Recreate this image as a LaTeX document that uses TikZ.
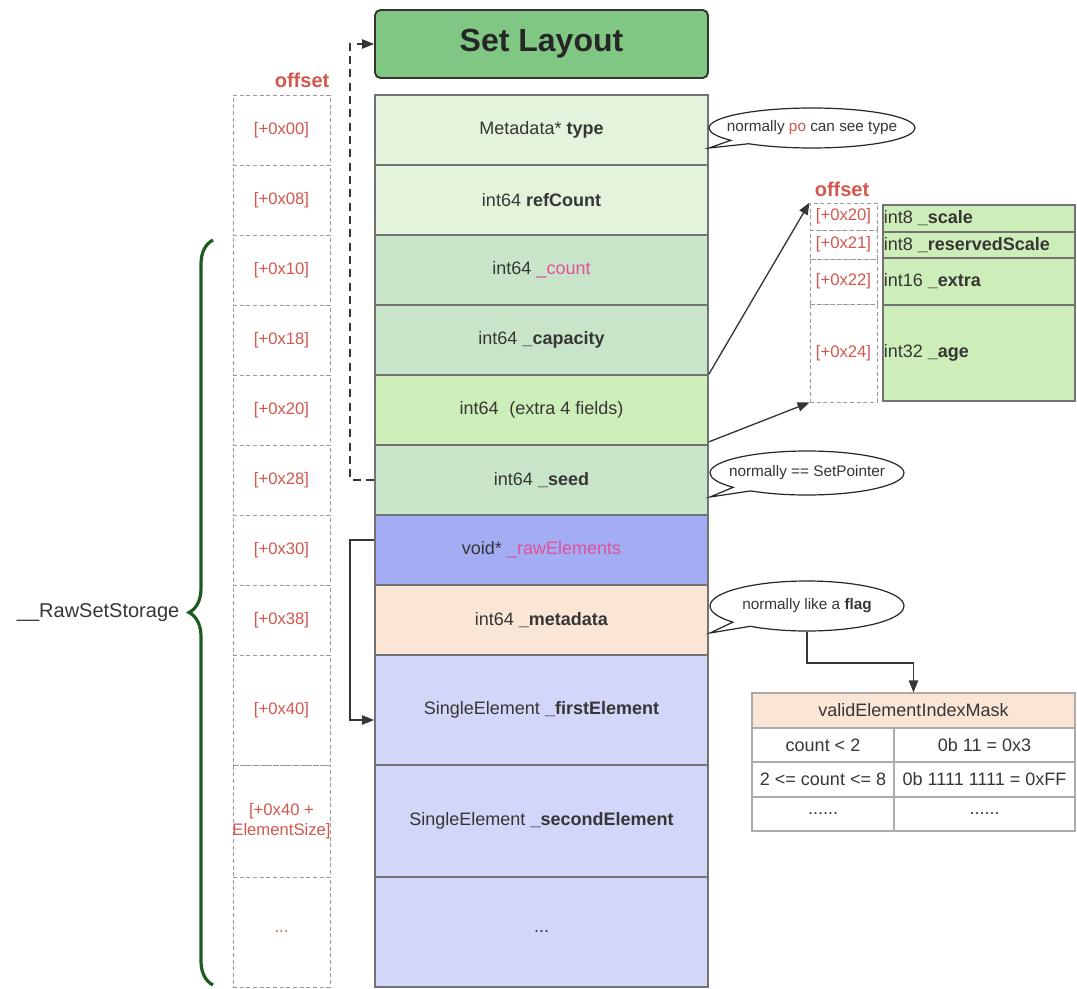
\documentclass[tikz,border=0pt]{standalone}
\usepackage{fontspec}
\setmainfont{Liberation Sans}
\usetikzlibrary{fit,shapes.callouts,decorations.pathreplacing,arrows.meta}

\definecolor{ink}{HTML}{363636}
\definecolor{offred}{HTML}{D4564E}
\definecolor{pinkt}{HTML}{E0509A}
\definecolor{lgreen}{HTML}{E4F4DC}
\definecolor{mgreen}{HTML}{C8E5C9}
\definecolor{lime}{HTML}{CDEDB9}
\definecolor{blueA}{HTML}{A3ADF3}
\definecolor{peach}{HTML}{FBE6D6}
\definecolor{lav}{HTML}{D2D6F8}
\definecolor{titleg}{HTML}{80C784}
\definecolor{braceg}{HTML}{1E5B20}
\definecolor{cellgray}{HTML}{737373}
\definecolor{dashgray}{HTML}{9A9A9A}
\definecolor{tblgray}{HTML}{ABABAB}

\newcommand{\fs}[1]{\fontsize{#1}{#1}\selectfont}

\begin{document}
\begin{tikzpicture}[x=0.75pt,y=-0.75pt,
  cell/.style={draw=cellgray, line width=1.3pt, inner sep=0pt},
  ctext/.style={inner sep=0pt, text=ink, font=\fs{13.5}},
  offbox/.style={draw=dashgray, dashed, dash pattern=on 3pt off 2pt, line width=0.7pt, inner sep=0pt},
  otext/.style={inner sep=0pt, text=offred, font=\fs{12.5}, align=center},
  subcell/.style={draw=cellgray, line width=1.1pt, fill=lime, inner sep=0pt},
  tcell/.style={draw=tblgray, line width=0.8pt, inner sep=0pt},
  bubble/.style={ellipse callout, draw=black!85, line width=0.9pt, fill=white, inner sep=0pt, callout pointer arc=14},
  btext/.style={inner sep=0pt, text=ink, font=\fs{11.5}},
  headlbl/.style={text=offred, font=\bfseries\fs{15}},
  arr/.style={draw=ink, line width=1pt, -{Triangle[length=9pt,width=7pt]}},
]
\useasboundingbox (0,0) rectangle (1077,988);

% title
\node[fit={(375,10)(708,78)}, inner sep=0pt, draw=black!80, line width=1.4pt, rounded corners=4pt, fill=titleg] (title) {};
\node[text=black!85, font=\bfseries\fs{24}] (titletext) at (title) {Set Layout};

% main layout rows
\node[cell, fill=lgreen, fit={(375,95)(708,165)}] (r1) {};
\node[cell, fill=lgreen, fit={(375,165)(708,235)}] (r2) {};
\node[cell, fill=mgreen, fit={(375,235)(708,305)}] (r3) {};
\node[cell, fill=mgreen, fit={(375,305)(708,375)}] (r4) {};
\node[cell, fill=lime, fit={(375,375)(708,445)}] (r5) {};
\node[cell, fill=mgreen, fit={(375,445)(708,515)}] (r6) {};
\node[cell, fill=blueA, fit={(375,515)(708,585)}] (r7) {};
\node[cell, fill=peach, fit={(375,585)(708,655)}] (r8) {};
\node[cell, fill=lav, fit={(375,655)(708,765)}] (r9) {};
\node[cell, fill=lav, fit={(375,765)(708,877)}] (r10) {};
\node[cell, fill=lav, fit={(375,877)(708,987)}] (r11) {};
\node[ctext] (l1) at (r1) {Metadata* \textbf{type}};
\node[ctext] (l2) at (r2) {int64 \textbf{refCount}};
\node[ctext] (l3) at (r3) {int64 \textcolor{pinkt}{\_count}};
\node[ctext] (l4) at (r4) {int64 \textbf{\_capacity}};
\node[ctext] (l5) at (r5) {int64\hspace{0.6em}(extra 4 fields)};
\node[ctext] (l6) at (r6) {int64 \textbf{\_seed}};
\node[ctext] (l7) at (r7) {void* \textcolor{pinkt}{\_rawElements}};
\node[ctext] (l8) at (r8) {int64 \textbf{\_metadata}};
\node[ctext] (l9) at (r9) {SingleElement \textbf{\_firstElement}};
\node[ctext] (l10) at (r10) {SingleElement \textbf{\_secondElement}};
\node[ctext] (l11) at (r11) {...};

% offset column
\node[headlbl, anchor=east] (offhead) at (334,80) {offset};
\node[offbox, fit={(233,95)(330,165)}] (o1) {};
\node[offbox, fit={(233,165)(330,235)}] (o2) {};
\node[offbox, fit={(233,235)(330,305)}] (o3) {};
\node[offbox, fit={(233,305)(330,375)}] (o4) {};
\node[offbox, fit={(233,375)(330,445)}] (o5) {};
\node[offbox, fit={(233,445)(330,515)}] (o6) {};
\node[offbox, fit={(233,515)(330,585)}] (o7) {};
\node[offbox, fit={(233,585)(330,655)}] (o8) {};
\node[offbox, fit={(233,655)(330,765)}] (o9) {};
\node[offbox, fit={(233,765)(330,877)}] (o10) {};
\node[offbox, fit={(233,877)(330,987)}] (o11) {};
\node[otext] (p1) at (o1) {[+0x00]};
\node[otext] (p2) at (o2) {[+0x08]};
\node[otext] (p3) at (o3) {[+0x10]};
\node[otext] (p4) at (o4) {[+0x18]};
\node[otext] (p5) at (o5) {[+0x20]};
\node[otext] (p6) at (o6) {[+0x28]};
\node[otext] (p7) at (o7) {[+0x30]};
\node[otext] (p8) at (o8) {[+0x38]};
\node[otext] (p9) at (o9) {[+0x40]};
\node[otext, font=\fontsize{12.5}{15}\selectfont] (p10) at (o10) {[+0x40 +\\ElementSize]};
\node[otext] (p11) at (o11) {...};

% storage brace
\draw[braceg, line width=2.4pt, decorate, decoration={brace, amplitude=18pt, aspect=0.5}] (213,985) -- (213,240);
\node[anchor=east, text=ink, font=\fs{15}] (storage) at (184,613) {\_\_RawSetStorage};

% seed points back to the whole set
\coordinate (s1) at (350,480);
\coordinate (s2) at (350,44);
\draw[arr, dash pattern=on 6pt off 4pt] (r6.west |- s1) -- (s1) -- (s2) -- (title.west |- s2);

% raw elements point to the first element
\coordinate (e1) at (350,540);
\coordinate (e2) at (350,720);
\draw[arr] (r7.west |- e1) -- (e1) -- (e2) -- (r9.west |- e2);

% extra fields breakdown
\node[headlbl] (offhead2) at (842,189) {offset};
\node[offbox, fit={(810,203)(877,230)}] (q1) {};
\node[offbox, fit={(810,230)(877,259)}] (q2) {};
\node[offbox, fit={(810,259)(877,304)}] (q3) {};
\node[offbox, fit={(810,304)(877,402)}] (q4) {};
\node[otext] (qt1) at (q1) {[+0x20]};
\node[otext] (qt2) at (q2) {[+0x21]};
\node[otext] (qt3) at (q3) {[+0x22]};
\node[otext] (qt4) at (q4) {[+0x24]};
\node[subcell, fit={(883,205)(1075,232)}] (f1) {};
\node[subcell, fit={(883,232)(1075,258)}] (f2) {};
\node[subcell, fit={(883,258)(1075,305)}] (f3) {};
\node[subcell, fit={(883,305)(1075,401)}] (f4) {};
\node[ctext, anchor=west] (g1) at ([xshift=1pt]f1.west) {int8 \textbf{\_scale}};
\node[ctext, anchor=west] (g2) at ([xshift=1pt]f2.west) {int8 \textbf{\_reservedScale}};
\node[ctext, anchor=west] (g3) at ([xshift=1pt]f3.west) {int16 \textbf{\_extra}};
\node[ctext, anchor=west] (g4) at ([xshift=1pt]f4.west) {int32 \textbf{\_age}};
\draw[arr] (r5.north east) -- (q1.north west);
\draw[arr] ([yshift=3pt]r5.south east) -- (q4.south west);

% remarks
\coordinate (t1) at (709,148);
\coordinate (t2) at (710,497);
\coordinate (t3) at (710,633);
\node[bubble, minimum width=206*0.75pt, minimum height=40*0.75pt, callout absolute pointer={(t1)}] (b1) at (812,128) {};
\node[bubble, minimum width=194*0.75pt, minimum height=44*0.75pt, callout absolute pointer={(t2)}] (b2) at (807,473) {};
\node[bubble, minimum width=194*0.75pt, minimum height=50*0.75pt, callout absolute pointer={(t3)}] (b3) at (807,606) {};
\node[btext] (bt1) at (b1) {normally \textcolor{offred}{po} can see type};
\node[btext] (bt2) at (b2) {normally == SetPointer};
\node[btext] (bt3) at (b3) {normally like a \textbf{flag}};

% mask table
\node[tcell, fill=peach, fit={(752,693)(1075,728)}] (hdr) {};
\node[tcell, fit={(752,728)(894,762)}] (c11) {};
\node[tcell, fit={(894,728)(1075,762)}] (c12) {};
\node[tcell, fit={(752,762)(894,797)}] (c21) {};
\node[tcell, fit={(894,762)(1075,797)}] (c22) {};
\node[tcell, fit={(752,797)(894,831)}] (c31) {};
\node[tcell, fit={(894,797)(1075,831)}] (c32) {};
\node[ctext] (h0) at (hdr) {validElementIndexMask};
\node[ctext] (h11) at (c11) {count < 2};
\node[ctext] (h12) at (c12) {0b 11 = 0x3};
\node[ctext] (h21) at (c21) {2 <= count <= 8};
\node[ctext] (h22) at (c22) {0b 1111 1111 = 0xFF};
\node[ctext] (h31) at (c31) {......};
\node[ctext] (h32) at (c32) {......};

\coordinate (k1) at (807,663);
\draw[arr] (b3.south) -- (k1) -| (hdr.north);
\end{tikzpicture}
\end{document}
